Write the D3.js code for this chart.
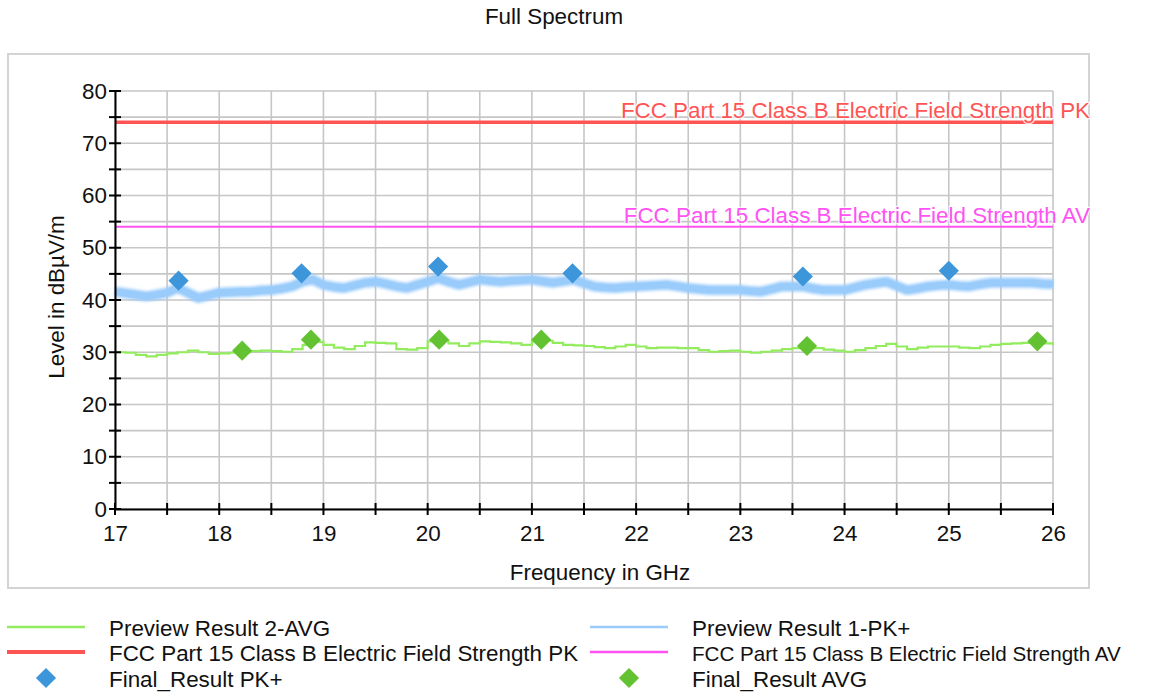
<!DOCTYPE html>
<html lang="en">
<head>
<meta charset="UTF-8">
<title>Full Spectrum</title>
<style>
  body { margin: 0; background: #fff; }
  svg { display: block; font-family: "Liberation Sans", Arial, sans-serif; }
</style>
</head>
<body>
<svg id="chart" width="1152" height="692"></svg>
<script src="https://cdn.jsdelivr.net/npm/d3@7/dist/d3.min.js"></script>
<script>
// frequency axis of the preview traces, GHz (0.1 GHz steps)
const freqStart = 17.0;
const freqStep = 0.1;

// Preview Result 1-PK+ (dBµV/m)
const pkPreview = [
  41.6, 41.3, 41.0, 40.7, 41.0, 41.4, 42.3, 41.4, 40.4, 40.9,
  41.4, 41.5, 41.6, 41.6, 41.8, 41.9, 42.2, 42.6, 43.5, 43.9,
  42.9, 42.5, 42.3, 42.8, 43.3, 43.5, 43.1, 42.6, 42.3, 42.9,
  43.5, 44.2, 43.5, 42.9, 43.4, 43.9, 43.7, 43.5, 43.7, 43.8,
  43.9, 43.6, 43.3, 43.6, 43.9, 43.2, 42.6, 42.4, 42.3, 42.5,
  42.6, 42.7, 42.8, 42.9, 42.6, 42.3, 42.1, 41.9, 41.9, 41.9,
  41.9, 41.7, 41.6, 42.1, 42.6, 42.6, 42.6, 42.2, 41.9, 41.9,
  41.9, 42.4, 42.9, 43.2, 43.5, 42.7, 41.9, 42.2, 42.6, 42.8,
  42.9, 42.7, 42.6, 43.0, 43.3, 43.3, 43.3, 43.3, 43.3, 43.1,
  43.0
];

// Preview Result 2-AVG (dBµV/m)
const avgPreview = [
  30.0, 29.9, 29.5, 29.2, 29.5, 29.8, 30.0, 30.3, 30.0, 29.7,
  29.8, 29.9, 30.0, 30.2, 30.3, 30.2, 30.1, 30.6, 31.4, 32.0,
  31.4, 30.9, 30.6, 31.2, 31.9, 31.8, 31.7, 30.6, 30.5, 30.8,
  32.1, 32.2, 31.7, 31.2, 31.7, 32.1, 32.0, 31.9, 31.7, 31.4,
  32.1, 32.2, 31.8, 31.4, 31.3, 31.2, 31.0, 30.8, 31.1, 31.4,
  31.1, 30.8, 30.9, 30.9, 30.8, 30.8, 30.4, 30.1, 30.2, 30.3,
  30.1, 29.9, 30.1, 30.3, 30.6, 30.8, 31.0, 30.8, 30.5, 30.3,
  30.1, 30.4, 30.8, 31.2, 31.6, 31.1, 30.6, 30.9, 31.1, 31.1,
  31.1, 30.9, 30.8, 31.1, 31.4, 31.6, 31.7, 31.8, 31.9, 31.7,
  31.4
];

// Final results
const pkFinalFreq = [17.61, 18.79, 20.10, 21.39, 23.60, 25.00];
const pkFinalLevel = [43.7, 45.1, 46.4, 45.1, 44.5, 45.6];
const avgFinalFreq = [18.22, 18.88, 20.11, 21.09, 23.64, 25.85];
const avgFinalLevel = [30.3, 32.4, 32.4, 32.4, 31.2, 32.1];

// limit lines
const limitPK = 74;
const limitAV = 54;
const limitPKLabel = "FCC Part 15 Class B Electric Field Strength PK";
const limitAVLabel = "FCC Part 15 Class B Electric Field Strength AV";

const xTicks = [17, 18, 19, 20, 21, 22, 23, 24, 25, 26];
const yTicks = [0, 10, 20, 30, 40, 50, 60, 70, 80];

const colors = {
  pk: "#99cbfb",
  avg: "#92ec5e",
  limPK: "#ff5454",
  limAV: "#ff52f2",
  pkMark: "#3d96da",
  avgMark: "#62c232"
};

const fontSize = 22.4;

const svg = d3.select("#chart");
const margin = {left: 115, right: 1053, top: 91, bottom: 509};

const x = d3.scaleLinear().domain([17, 26]).range([margin.left, margin.right]);
const y = d3.scaleLinear().domain([0, 80]).range([margin.bottom, margin.top]);

// soft edge for the noisy peak trace
svg.append("defs").append("filter").attr("id", "fuzz")
  .attr("x", "-5%").attr("y", "-50%").attr("width", "110%").attr("height", "200%")
  .append("feGaussianBlur").attr("stdDeviation", 1.4);

// outer frame
svg.append("rect")
  .attr("x", 8).attr("y", 54).attr("width", 1081).attr("height", 534)
  .attr("fill", "none").attr("stroke", "#d4d4d4").attr("stroke-width", 2);

// title
svg.append("text")
  .attr("x", 554).attr("y", 24)
  .attr("text-anchor", "middle").attr("font-size", fontSize).attr("fill", "#111")
  .text("Full Spectrum");

// grid
const gridX = d3.range(17, 26.01, 0.5);
const gridY = d3.range(0, 80.01, 5);
svg.append("g").selectAll("line").data(gridX).join("line")
  .attr("x1", d => x(d)).attr("x2", d => x(d))
  .attr("y1", y(0)).attr("y2", y(80))
  .attr("stroke", "#c6c6c6").attr("stroke-width", 1.6);
svg.append("g").selectAll("line").data(gridY).join("line")
  .attr("x1", x(17)).attr("x2", x(26))
  .attr("y1", d => y(d)).attr("y2", d => y(d))
  .attr("stroke", "#c6c6c6").attr("stroke-width", 1.6);

// preview traces
const pkPts = pkPreview.map((v, i) => [freqStart + i * freqStep, v]);
const avgPts = avgPreview.map((v, i) => [freqStart + i * freqStep, v]);

const line = d3.line().x(d => x(d[0])).y(d => y(d[1]));

svg.append("path").datum(pkPts)
  .attr("d", line).attr("fill", "none")
  .attr("stroke", colors.pk).attr("stroke-width", 10)
  .attr("stroke-linejoin", "round").attr("filter", "url(#fuzz)");
svg.append("path").datum(pkPts)
  .attr("d", line).attr("fill", "none")
  .attr("stroke", colors.pk).attr("stroke-width", 6)
  .attr("stroke-linejoin", "round");

svg.append("path").datum(avgPts)
  .attr("d", d3.line().curve(d3.curveStepAfter).x(d => x(d[0])).y(d => y(d[1])))
  .attr("fill", "none")
  .attr("stroke", colors.avg).attr("stroke-width", 2.2);

// limit lines
svg.append("line")
  .attr("x1", x(17)).attr("x2", x(26)).attr("y1", y(limitPK)).attr("y2", y(limitPK))
  .attr("stroke", colors.limPK).attr("stroke-width", 3.5);
svg.append("line")
  .attr("x1", x(17)).attr("x2", x(26)).attr("y1", y(limitAV)).attr("y2", y(limitAV))
  .attr("stroke", colors.limAV).attr("stroke-width", 2);

[[limitPK, limitPKLabel, colors.limPK], [limitAV, limitAVLabel, colors.limAV]].forEach(([v, t, c]) => {
  svg.append("text")
    .attr("x", 1090).attr("y", y(v) - 4)
    .attr("text-anchor", "end").attr("font-size", fontSize)
    .attr("fill", c)
    .attr("stroke", "#fff").attr("stroke-width", 2.5).attr("stroke-opacity", 0.8)
    .attr("paint-order", "stroke")
    .text(t);
});

// final result markers
const diamond = d3.symbol().type(d3.symbolDiamond2).size(260);
svg.append("g").selectAll("path").data(pkFinalFreq).join("path")
  .attr("transform", (d, i) => `translate(${x(d)},${y(pkFinalLevel[i])})`)
  .attr("d", diamond).attr("fill", colors.pkMark);
svg.append("g").selectAll("path").data(avgFinalFreq).join("path")
  .attr("transform", (d, i) => `translate(${x(d)},${y(avgFinalLevel[i])})`)
  .attr("d", diamond).attr("fill", colors.avgMark);

// axes
const yAxis = d3.axisLeft(y).tickValues(yTicks).tickSize(0).tickPadding(8).tickFormat(d3.format("d"));
const xAxis = d3.axisBottom(x).tickValues(xTicks).tickSize(0).tickPadding(16).tickFormat(d3.format("d"));

const gy = svg.append("g").attr("transform", `translate(${x(17)},0)`).call(yAxis);
const gx = svg.append("g").attr("transform", `translate(0,${y(0)})`).call(xAxis);
[gy, gx].forEach(g => {
  g.select(".domain").attr("stroke", "#000").attr("stroke-width", 2);
  g.selectAll("text").attr("font-size", fontSize).attr("fill", "#111").attr("font-family", "Liberation Sans, Arial, sans-serif");
});

// ticks crossing the axis lines (major and half steps)
svg.append("g").selectAll("line").data(gridY).join("line")
  .attr("x1", x(17) - 6).attr("x2", x(17) + 6)
  .attr("y1", d => y(d)).attr("y2", d => y(d))
  .attr("stroke", "#000").attr("stroke-width", 2);
svg.append("g").selectAll("line").data(gridX).join("line")
  .attr("x1", d => x(d)).attr("x2", d => x(d))
  .attr("y1", y(0) - 6).attr("y2", y(0) + 6)
  .attr("stroke", "#000").attr("stroke-width", 2);

// axis titles
svg.append("text")
  .attr("transform", "translate(64,297) rotate(-90)")
  .attr("text-anchor", "middle").attr("font-size", fontSize).attr("fill", "#111")
  .text("Level in dBµV/m");
svg.append("text")
  .attr("x", 600).attr("y", 580)
  .attr("text-anchor", "middle").attr("font-size", fontSize).attr("fill", "#111")
  .text("Frequency in GHz");

// legend
const legend = [
  {label: "Preview Result 2-AVG", col: 0, row: 0, kind: "line", color: colors.avg, w: 2.5},
  {label: "Preview Result 1-PK+", col: 1, row: 0, kind: "line", color: colors.pk, w: 2.5},
  {label: limitPKLabel, col: 0, row: 1, kind: "line", color: colors.limPK, w: 4},
  {label: limitAVLabel, col: 1, row: 1, kind: "line", color: colors.limAV, w: 2.5, fs: 20.6},
  {label: "Final_Result PK+", col: 0, row: 2, kind: "mark", color: colors.pkMark},
  {label: "Final_Result AVG", col: 1, row: 2, kind: "mark", color: colors.avgMark}
];
const colX = [7, 590];
const rowY = [627, 652, 678];
const lg = svg.append("g");
legend.forEach(d => {
  const x0 = colX[d.col], yy = rowY[d.row];
  if (d.kind === "line") {
    lg.append("line").attr("x1", x0).attr("x2", x0 + 78).attr("y1", yy).attr("y2", yy)
      .attr("stroke", d.color).attr("stroke-width", d.w);
  } else {
    lg.append("path").attr("transform", `translate(${x0 + 39},${yy})`)
      .attr("d", diamond).attr("fill", d.color);
  }
  lg.append("text").attr("x", x0 + 102).attr("y", yy + 9)
    .attr("font-size", d.fs || fontSize).attr("fill", "#111").text(d.label);
});
</script>
</body>
</html>
